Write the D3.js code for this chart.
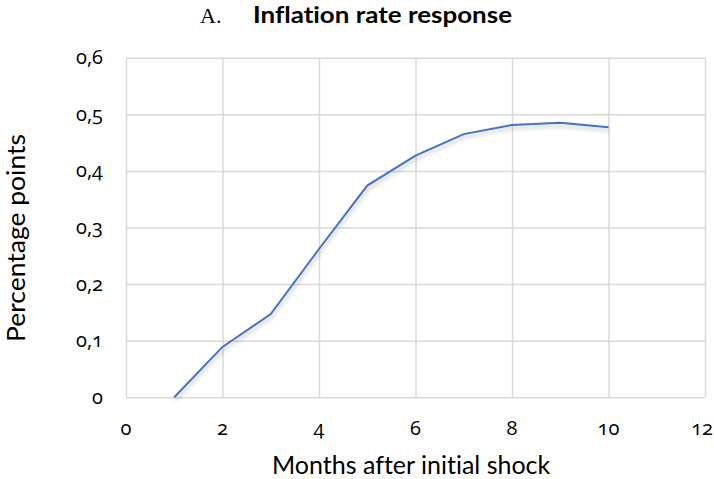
<!DOCTYPE html>
<html><head><meta charset="utf-8">
<script src="https://cdn.jsdelivr.net/npm/d3@7"></script>
<style>
html,body{margin:0;padding:0;background:#fff;}
svg{display:block;}
text{font-variant-ligatures:none;}
</style></head>
<body>
<script>
const months = [1,2,3,4,5,6,7,8,9,10];
const inflationResponse = [0.0,0.089,0.147,0.262,0.374,0.427,0.465,0.481,0.485,0.477];
const xTicks = [0,2,4,6,8,10,12];
const yTicks = [0,0.1,0.2,0.3,0.4,0.5,0.6];
const titlePrefix = "A.";
const titleText = "Inflation rate response";
const xTitle = "Months after initial shock";
const yTitle = "Percentage points";

(function(){
const W=714,H=479;
const pL=126,pR=705,pT=57.7,pB=397.3;
const svg=d3.select("body").append("svg").attr("width",W).attr("height",H);
const defs=svg.append("defs");
const f=defs.append("filter").attr("id","sh").attr("x","-10%").attr("y","-10%").attr("width","120%").attr("height","140%");
f.append("feGaussianBlur").attr("in","SourceAlpha").attr("stdDeviation",2.2).attr("result","b");
f.append("feOffset").attr("in","b").attr("dx",1).attr("dy",3).attr("result","o");
f.append("feComponentTransfer").attr("in","o").attr("result","t").append("feFuncA").attr("type","linear").attr("slope",0.25);
const m=f.append("feMerge");m.append("feMergeNode").attr("in","t");m.append("feMergeNode").attr("in","SourceGraphic");

const x=d3.scaleLinear().domain([0,12]).range([pL,pR]);
const y=d3.scaleLinear().domain([0,0.6]).range([pB,pT]);
const grid="#d9d9d9";
const tickFont="'Open Sans', sans-serif";
const labFont="Lato, 'Open Sans', sans-serif";
const fmt=v=>v===0?"0":d3.format(".1f")(v).replace(".",",");

const gx=svg.append("g").attr("transform",`translate(0,${pB})`)
 .call(d3.axisBottom(x).tickValues(xTicks).tickSize(-(pB-pT)).tickFormat(""));
gx.select(".domain").remove();
gx.selectAll("line").attr("stroke",grid).attr("stroke-width",1.5);
const gy=svg.append("g").attr("transform",`translate(${pL},0)`)
 .call(d3.axisLeft(y).tickValues(yTicks).tickSize(-(pR-pL)).tickFormat(""));
gy.select(".domain").remove();
gy.selectAll("line").attr("stroke",grid).attr("stroke-width",1.5);

svg.append("g").selectAll("text").data(yTicks).join("text")
 .attr("x",103).attr("y",d=>y(d)+6.5).attr("text-anchor","end")
 .style("font-family",tickFont).style("font-size","20px").style("font-variant-numeric","oldstyle-nums")
 .attr("fill","#000").text(fmt);
const xl=svg.append("g").selectAll("text").data(xTicks).join("text")
 .attr("x",d=>x(d)).attr("y",435).attr("text-anchor","middle")
 .style("font-family",tickFont).style("font-size","20px").style("font-variant-numeric","oldstyle-nums")
 .attr("fill","#000").text(d=>d);
xl.each(function(){const b=this.getBBox();if(b.x+b.width>W-1){d3.select(this).attr("text-anchor","end").attr("x",W-1);}});

const line=d3.line().x((d,i)=>x(months[i])).y(d=>y(d));
svg.append("path").datum(inflationResponse).attr("d",line).attr("fill","none")
 .attr("stroke","#4472c4").attr("stroke-width",2).attr("filter","url(#sh)");

function fitLen(sel,w){const l=sel.node().getComputedTextLength();if(Math.abs(l-w)/w>0.02){sel.attr("textLength",w).attr("lengthAdjust","spacingAndGlyphs");}}

svg.append("text").attr("x",200).attr("y",23.3).style("font-family","'Liberation Serif','DejaVu Serif',serif").style("font-size","22px").text(titlePrefix);
const t2=svg.append("text").attr("x",253).attr("y",23.3).style("font-family",labFont).style("font-weight","bold").style("font-size","23px").text(titleText);
fitLen(t2,259);
const xt=svg.append("text").attr("x",272).attr("y",474).style("font-family",labFont).style("font-size","25px").text(xTitle);
fitLen(xt,281);
const yt=svg.append("text").attr("transform",`translate(25,342) rotate(-90)`).style("font-family",labFont).style("font-size","25px").text(yTitle);
fitLen(yt,208);
})();
</script>
</body></html>
